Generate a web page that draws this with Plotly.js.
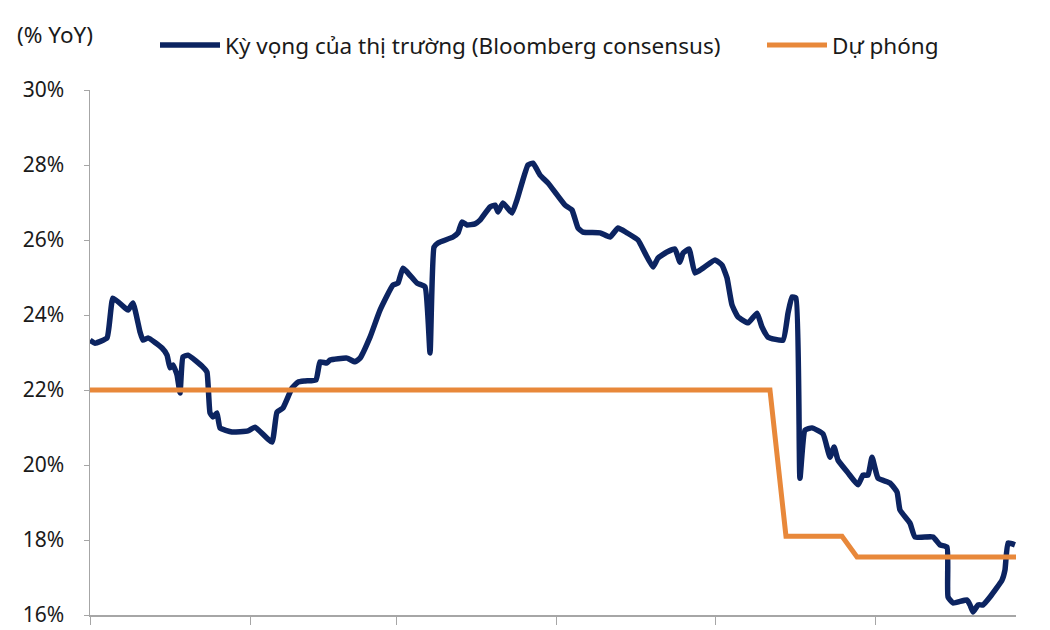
<!DOCTYPE html>
<html>
<head>
<meta charset="utf-8">
<script src="https://cdn.plot.ly/plotly-3.0.1.min.js"></script>
<style>html,body{margin:0;padding:0;background:#fff;}#chart{width:1050px;height:630px;}</style>
</head>
<body>
<div id="chart"></div>
<script>
// Time axis: position along the period (0 = start, 100 = end)
const period = [0,0.54,1.84,2.48,3.78,4.10,4.64,5.40,5.72,6.26,7.78,8.32,8.64,8.96,9.40,9.72,10.04,10.58,12.20,12.63,12.96,13.28,13.71,14.04,15.33,17.06,17.82,19.65,20.19,20.84,21.81,22.46,23.22,24.41,24.84,25.59,25.92,27.75,28.62,29.16,30.24,31.32,32.72,33.26,33.80,35.31,36.18,36.72,37.15,37.58,39.20,39.74,40.17,40.71,41.58,42.12,43.20,43.74,44.06,44.60,45.57,46.11,47.30,47.84,48.60,49.46,51.30,52.05,52.70,53.24,55.08,56.16,57.02,57.99,59.18,59.94,60.80,61.34,62.31,63.17,63.71,64.04,64.69,65.33,66.20,67.49,68.25,68.79,69.33,69.98,71.06,72.03,72.57,73.22,74.84,75.38,75.81,76.24,76.67,77.21,77.97,79.16,79.91,80.35,80.78,81.86,82.94,83.48,84.02,84.45,85.10,86.39,87.15,87.47,88.55,89.09,91.04,91.79,92.55,92.66,93.20,94.71,95.03,95.36,95.90,96.44,97.19,98.49,98.81,99.14,99.89];
const consensus = [23.33,23.25,23.39,24.45,24.19,24.13,24.32,23.55,23.33,23.39,23.12,22.93,22.59,22.67,22.40,21.92,22.88,22.93,22.61,22.48,21.39,21.28,21.39,20.99,20.88,20.91,21.01,20.61,21.41,21.52,22.05,22.21,22.24,22.27,22.75,22.72,22.80,22.85,22.75,22.85,23.41,24.13,24.80,24.85,25.25,24.85,24.75,22.99,25.81,25.92,26.08,26.19,26.48,26.40,26.43,26.53,26.88,26.93,26.75,26.99,26.72,27.07,28.00,28.05,27.73,27.52,26.93,26.80,26.32,26.21,26.19,26.08,26.32,26.19,26.00,25.65,25.28,25.52,25.68,25.76,25.41,25.65,25.76,25.12,25.25,25.47,25.33,24.99,24.27,23.95,23.79,24.05,23.68,23.41,23.33,24.05,24.48,24.45,19.65,20.93,20.99,20.83,20.21,20.48,20.13,19.79,19.47,19.73,19.73,20.21,19.65,19.52,19.28,18.80,18.45,18.08,18.08,17.87,17.81,16.48,16.32,16.40,16.27,16.08,16.27,16.27,16.48,16.93,17.20,17.92,17.87];

const forecastPeriod = [0, 73.43, 75.16, 81.21, 82.83, 100];
const forecast = [22, 22, 18.1, 18.1, 17.55, 17.55];

const tickPositions = [0, 17.28, 33.15, 50.43, 67.6, 84.88];
const yTicks = [16, 18, 20, 22, 24, 26, 28, 30];
const yTickText = ["16%","18%","20%","22%","24%","26%","28%","30%"];

const font = "Noto Sans, Open Sans, sans-serif";
const legendFont = {family: font, size: 22.5, color: "#1a1a1a"};

const traces = [
  {x: period, y: consensus, type: "scatter", mode: "lines",
   name: "Kỳ vọng của thị trường (Bloomberg consensus)", legend: "legend",
   line: {color: "#0c2461", width: 5.5, shape: "spline", smoothing: 0.4}},
  {x: forecastPeriod, y: forecast, type: "scatter", mode: "lines",
   name: "Dự phóng", legend: "legend2",
   line: {color: "#e8883a", width: 5}}
];

const layout = {
  width: 1050, height: 630,
  margin: {l: 90, r: 34, t: 90, b: 15},
  paper_bgcolor: "#fff", plot_bgcolor: "#fff",
  font: {family: font, color: "#1a1a1a", size: 21},
  showlegend: true,
  legend: {orientation: "h", x: 0.0702, xref: "paper", yref: "container",
           yanchor: "top", xanchor: "left", y: 0.962,
           font: legendFont, itemwidth: 60, bgcolor: "rgba(0,0,0,0)"},
  legend2: {orientation: "h", x: 0.7257, xref: "paper", yref: "container",
           yanchor: "top", xanchor: "left", y: 0.962,
           font: legendFont, itemwidth: 60, bgcolor: "rgba(0,0,0,0)"},
  xaxis: {range: [0, 100], tickvals: tickPositions, showticklabels: false,
          ticks: "outside", ticklen: 8, tickcolor: "#a6a6a6", tickwidth: 1,
          showline: true, linecolor: "#a6a6a6", linewidth: 1.5,
          showgrid: false, zeroline: false, fixedrange: true},
  yaxis: {range: [16, 30], tickvals: yTicks, ticktext: yTickText,
          ticks: "outside", ticklen: 5, tickcolor: "#a6a6a6",
          showline: true, linecolor: "#a6a6a6", linewidth: 1.5,
          showgrid: false, zeroline: false, ticklabelstandoff: 15,
          tickfont: {family: font, size: 21, color: "#1a1a1a"}},
  annotations: [
    {text: "(% YoY)", xref: "paper", yref: "paper", x: -0.081, y: 1.105,
     xanchor: "left", yanchor: "middle", showarrow: false,
     font: {family: font, size: 22.5, color: "#1a1a1a"}}
  ]
};

Plotly.newPlot("chart", traces, layout, {displayModeBar: false, staticPlot: true});
</script>
</body>
</html>
